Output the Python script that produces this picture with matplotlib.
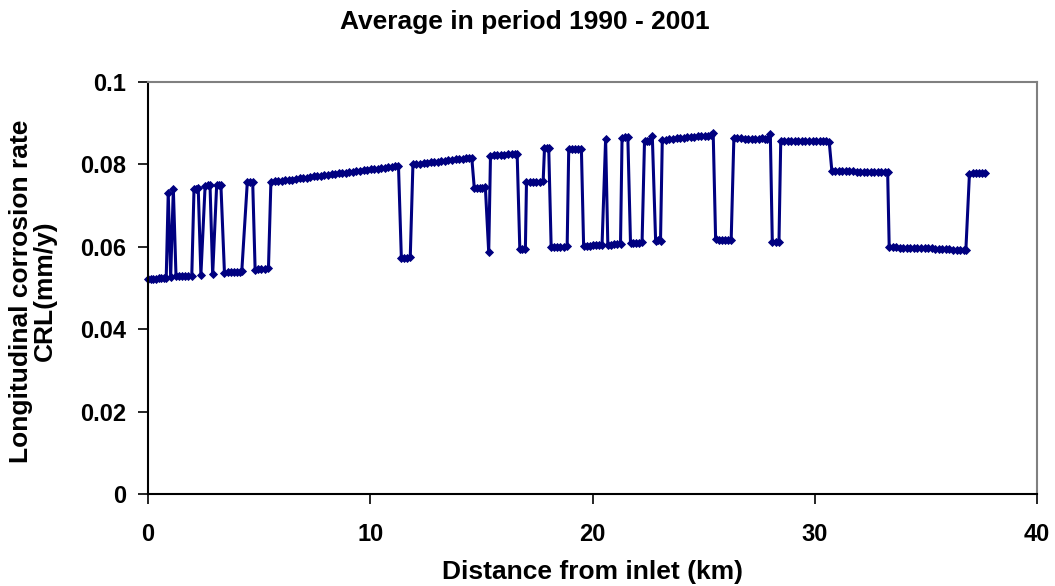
import matplotlib
matplotlib.use("Agg")
import matplotlib.pyplot as plt

title = "Average in period 1990 - 2001"
x_label = "Distance from inlet (km)"
y_label = "Longitudinal corrosion rate\nCRL(mm/y)"
x_ticks = [0, 10, 20, 30, 40]
y_ticks = [0, 0.02, 0.04, 0.06, 0.08, 0.1]
y_tick_labels = ["0", "0.02", "0.04", "0.06", "0.08", "0.1"]

distance_km = [
    0.00, 0.12, 0.24, 0.36, 0.48, 0.60, 0.72, 0.82, 0.91, 1.02, 1.14,
    1.26, 1.40, 1.54, 1.68, 1.82, 1.97, 2.07, 2.17, 2.26, 2.38,
    2.57, 2.68, 2.79, 2.91, 3.09, 3.18, 3.28,
    3.44, 3.58, 3.72, 3.86, 4.00, 4.12, 4.22, 4.47, 4.59, 4.71,
    4.82, 4.96, 5.10, 5.26, 5.42,
    5.53, 5.70, 5.86, 6.02, 6.18, 6.34, 6.50, 6.66, 6.82, 6.98, 7.14,
    7.30, 7.46, 7.62, 7.78, 7.94, 8.10, 8.26, 8.42, 8.58, 8.74, 8.90,
    9.06, 9.22, 9.38, 9.54, 9.70, 9.86, 10.02, 10.18, 10.34, 10.50,
    10.66, 10.82, 10.98, 11.12, 11.27,
    11.40, 11.53, 11.66, 11.80,
    11.92, 12.08, 12.24, 12.40, 12.56, 12.72, 12.88, 13.04, 13.20,
    13.36, 13.52, 13.68, 13.84, 14.00, 14.16, 14.32, 14.46, 14.57,
    14.68, 14.80, 14.92, 15.05, 15.18, 15.33,
    15.41, 15.56, 15.72, 15.88, 16.04, 16.20, 16.36, 16.50, 16.61,
    16.73, 16.85, 16.98,
    17.03, 17.18, 17.33, 17.48, 17.63, 17.78, 17.84, 17.94, 18.03,
    18.14, 18.28, 18.42, 18.56, 18.72, 18.86,
    18.93, 19.07, 19.21, 19.36, 19.50,
    19.60, 19.74, 19.88, 20.02, 20.16, 20.30, 20.43, 20.59,
    20.69, 20.84, 20.98, 21.12, 21.26, 21.33, 21.46, 21.59,
    21.71, 21.84, 21.97, 22.10, 22.23, 22.34, 22.44, 22.53, 22.69,
    22.84, 22.95, 23.06,
    23.14, 23.30, 23.46, 23.62, 23.78, 23.94, 24.10, 24.26, 24.42,
    24.58, 24.74, 24.90, 25.06, 25.20, 25.32, 25.43,
    25.54, 25.68, 25.82, 25.96, 26.10, 26.24,
    26.36, 26.52, 26.68, 26.84, 27.00, 27.16, 27.32, 27.48, 27.62,
    27.76, 27.87, 28.00,
    28.09, 28.24, 28.39,
    28.47, 28.62, 28.78, 28.94, 29.10, 29.26, 29.42, 29.58, 29.74,
    29.90, 30.06, 30.22, 30.38, 30.52, 30.65,
    30.77, 30.92, 31.08, 31.24, 31.40, 31.56, 31.72, 31.88, 32.04,
    32.20, 32.36, 32.52, 32.68, 32.84, 33.00, 33.14, 33.28,
    33.35, 33.50, 33.66, 33.82, 33.98, 34.14, 34.30, 34.46, 34.62,
    34.78, 34.94, 35.10, 35.26, 35.42, 35.58, 35.74, 35.90, 36.06,
    36.22, 36.38, 36.54, 36.70, 36.80,
    36.96, 37.10, 37.24, 37.38, 37.52, 37.66,
]

crl_mm_per_year = [
    0.0522, 0.0523, 0.0523, 0.0523, 0.0524, 0.0524, 0.0524, 0.0525, 0.0730, 0.0527, 0.0740,
    0.0529, 0.0529, 0.0529, 0.0529, 0.0530, 0.0530, 0.0740, 0.0741, 0.0742, 0.0532,
    0.0748, 0.0750, 0.0750, 0.0533, 0.0750, 0.0750, 0.0750,
    0.0537, 0.0538, 0.0538, 0.0539, 0.0540, 0.0540, 0.0541, 0.0758, 0.0758, 0.0758,
    0.0544, 0.0545, 0.0546, 0.0547, 0.0548,
    0.0758, 0.0759, 0.0760, 0.0760, 0.0761, 0.0762, 0.0763, 0.0765, 0.0766, 0.0767, 0.0768,
    0.0769, 0.0771, 0.0772, 0.0773, 0.0774, 0.0775, 0.0776, 0.0777, 0.0778, 0.0779, 0.0780,
    0.0781, 0.0782, 0.0783, 0.0785, 0.0786, 0.0787, 0.0788, 0.0789, 0.0790, 0.0791,
    0.0792, 0.0793, 0.0794, 0.0795, 0.0797,
    0.0572, 0.0574, 0.0574, 0.0575,
    0.0800, 0.0801, 0.0802, 0.0803, 0.0804, 0.0806, 0.0806, 0.0807, 0.0808,
    0.0809, 0.0810, 0.0811, 0.0812, 0.0813, 0.0814, 0.0815, 0.0815, 0.0815,
    0.0743, 0.0742, 0.0743, 0.0743, 0.0744, 0.0587,
    0.0821, 0.0822, 0.0822, 0.0823, 0.0824, 0.0825, 0.0825, 0.0825, 0.0825,
    0.0594, 0.0595, 0.0595,
    0.0757, 0.0757, 0.0757, 0.0758, 0.0758, 0.0759, 0.0839, 0.0840, 0.0840,
    0.0599, 0.0600, 0.0600, 0.0600, 0.0600, 0.0601,
    0.0837, 0.0838, 0.0838, 0.0838, 0.0838,
    0.0603, 0.0603, 0.0603, 0.0604, 0.0604, 0.0605, 0.0605, 0.0861,
    0.0604, 0.0605, 0.0606, 0.0606, 0.0607, 0.0865, 0.0866, 0.0866,
    0.0609, 0.0610, 0.0610, 0.0610, 0.0611, 0.0856, 0.0857, 0.0858, 0.0870,
    0.0615, 0.0616, 0.0615,
    0.0859, 0.0860, 0.0861, 0.0862, 0.0863, 0.0864, 0.0865, 0.0866, 0.0866,
    0.0867, 0.0868, 0.0868, 0.0869, 0.0870, 0.0871, 0.0876,
    0.0618, 0.0617, 0.0617, 0.0617, 0.0617, 0.0617,
    0.0863, 0.0863, 0.0863, 0.0862, 0.0862, 0.0862, 0.0862, 0.0862, 0.0863,
    0.0861, 0.0861, 0.0875,
    0.0612, 0.0611, 0.0611,
    0.0858, 0.0858, 0.0858, 0.0857, 0.0857, 0.0857, 0.0857, 0.0856, 0.0856,
    0.0856, 0.0856, 0.0856, 0.0856, 0.0856, 0.0855,
    0.0784, 0.0783, 0.0783, 0.0783, 0.0783, 0.0783, 0.0783, 0.0782, 0.0782,
    0.0782, 0.0781, 0.0781, 0.0781, 0.0781, 0.0781, 0.0781, 0.0781,
    0.0599, 0.0599, 0.0599, 0.0598, 0.0598, 0.0597, 0.0597, 0.0597, 0.0597,
    0.0597, 0.0597, 0.0597, 0.0596, 0.0595, 0.0595, 0.0595, 0.0594, 0.0594,
    0.0593, 0.0593, 0.0593, 0.0593, 0.0593,
    0.0777, 0.0778, 0.0778, 0.0778, 0.0778, 0.0778,
]

plt.rcParams['font.family'] = ['Liberation Sans', 'DejaVu Sans']
plt.rcParams['font.weight'] = 'bold'

fig = plt.figure(figsize=(10.55, 5.86), dpi=100)
ax = fig.add_axes([148 / 1055, 1 - 494 / 586, (1037 - 148) / 1055, (494 - 82) / 586])

ax.plot(distance_km, crl_mm_per_year, color='#000080', linewidth=2.2,
        marker='D', markersize=4, markeredgewidth=0.6, markeredgecolor='#000080',
        markerfacecolor='#000080', clip_on=False)

ax.set_xlim(0, 40)
ax.set_ylim(0, 0.1)
ax.set_xticks(x_ticks)
ax.set_xticklabels([str(t) for t in x_ticks])
ax.set_yticks(y_ticks)
ax.set_yticklabels(y_tick_labels)

for s in ['left', 'bottom']:
    ax.spines[s].set_color('black')
    ax.spines[s].set_linewidth(1.5)
for s in ['top', 'right']:
    ax.spines[s].set_color('#808080')
    ax.spines[s].set_linewidth(1.5)

fs = 17
lfs = 19
ax.tick_params(axis='x', direction='out', length=7, width=1.2, pad=14, labelsize=fs)
ax.tick_params(axis='y', direction='out', length=7, width=1.2, pad=9, labelsize=fs)
for lab in ax.get_xticklabels() + ax.get_yticklabels():
    lab.set_fontweight('bold')

fig.text(525 / 1055, 1 - 22 / 586, title, ha='center', va='center',
         fontsize=lfs, fontweight='bold')
fig.text((148 + 1037) / 2 / 1055, 1 - 572 / 586, x_label, ha='center', va='center',
         fontsize=lfs, fontweight='bold')
fig.text(33 / 1055, 1 - 291 / 586, y_label, ha='center', va='center', rotation=90,
         fontsize=lfs, fontweight='bold', multialignment='center', linespacing=0.95)

fig.savefig('out.png', dpi=100, facecolor='white')
